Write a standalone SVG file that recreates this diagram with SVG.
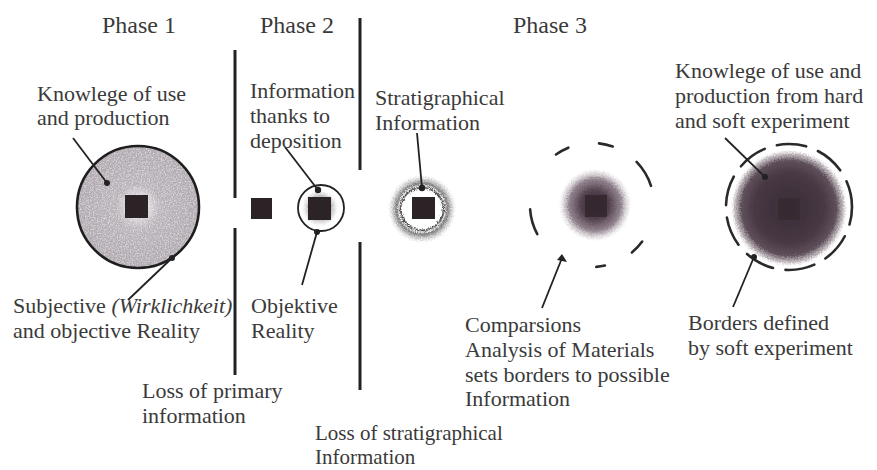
<svg xmlns="http://www.w3.org/2000/svg" width="877" height="470" viewBox="0 0 877 470">
<defs>
<style>
text{font-family:"Liberation Serif","Times New Roman",serif;font-size:22px;fill:#3a3a3a}
.title{font-size:24px}
.it{font-style:italic}
.sm{font-size:21px}
.div{stroke:#222;stroke-width:3;fill:none}
.lead{stroke:#222;stroke-width:1.8;fill:none}
.dot{fill:#222}
.sq{fill:#2b2326}
.dash{stroke:#2a2a2a;stroke-width:2.6;fill:none;stroke-linecap:round}
</style>
<radialGradient id="g1">
<stop offset="0" stop-color="#e6e2e6"/>
<stop offset="0.2" stop-color="#d6d1d6"/>
<stop offset="0.36" stop-color="#b7b0b7"/>
<stop offset="1" stop-color="#aea7ae"/>
</radialGradient>
<radialGradient id="halo">
<stop offset="0" stop-color="#555"/>
<stop offset="0.55" stop-color="#888" stop-opacity="0.7"/>
<stop offset="1" stop-color="#aaa" stop-opacity="0"/>
</radialGradient>
<radialGradient id="ring">
<stop offset="0" stop-color="#fff"/>
<stop offset="0.58" stop-color="#fff"/>
<stop offset="0.63" stop-color="#444"/>
<stop offset="0.68" stop-color="#eee"/>
<stop offset="0.74" stop-color="#666" stop-opacity="0.85"/>
<stop offset="0.86" stop-color="#999" stop-opacity="0.5"/>
<stop offset="1" stop-color="#ccc" stop-opacity="0"/>
</radialGradient>
<radialGradient id="b2">
<stop offset="0" stop-color="#3a2b37"/>
<stop offset="0.4" stop-color="#52414e"/>
<stop offset="0.72" stop-color="#7d6d79" stop-opacity="0.85"/>
<stop offset="1" stop-color="#c0b8be" stop-opacity="0"/>
</radialGradient>
<radialGradient id="b3">
<stop offset="0" stop-color="#3a2d37"/>
<stop offset="0.6" stop-color="#473844"/>
<stop offset="0.82" stop-color="#5f505b"/>
<stop offset="0.93" stop-color="#958890" stop-opacity="0.6"/>
<stop offset="1" stop-color="#c8c0c6" stop-opacity="0"/>
</radialGradient>
<filter id="grain" x="-10%" y="-10%" width="120%" height="120%">
<feTurbulence type="fractalNoise" baseFrequency="0.75" numOctaves="2" seed="4" result="n"/>
<feColorMatrix in="n" type="matrix" values="0 0 0 0 0 0 0 0 0 0 0 0 0 0 0 0 0 0 -1.4 1.55" result="a"/>
<feComposite in="SourceGraphic" in2="a" operator="in"/>
</filter>
<filter id="fuzz" x="-20%" y="-20%" width="140%" height="140%">
<feTurbulence type="fractalNoise" baseFrequency="0.7" numOctaves="2" seed="7" result="t"/>
<feDisplacementMap in="SourceGraphic" in2="t" scale="5" xChannelSelector="R" yChannelSelector="G"/>
</filter>
</defs>
<rect width="877" height="470" fill="#fff"/>

<g id="titles">
<text class="title" x="102" y="33">Phase 1</text>
<text class="title" x="260" y="33">Phase 2</text>
<text class="title" x="513" y="33">Phase 3</text>
</g>

<g id="dividers">
<line class="div" x1="235" y1="50" x2="235" y2="198"/>
<line class="div" x1="235" y1="228" x2="235" y2="375"/>
<line class="div" x1="360" y1="18" x2="360" y2="170"/>
<line class="div" x1="360" y1="242" x2="360" y2="390"/>
</g>

<g id="phase1-node">
<circle cx="138" cy="207" r="61" fill="#fff"/>
<circle cx="138" cy="207" r="61" fill="url(#g1)" filter="url(#grain)"/>
<circle cx="138" cy="207" r="61" fill="none" stroke="#1e1e1e" stroke-width="2.6"/>
<rect class="sq" x="125" y="195" width="23" height="23"/>
</g>

<g id="phase2-lost">
<rect class="sq" x="251" y="198" width="21" height="21"/>
</g>

<g id="phase2-node">
<circle cx="321" cy="208" r="23" fill="#fff" stroke="#222" stroke-width="1.8"/>
<circle cx="320" cy="208" r="18" fill="url(#halo)" filter="url(#fuzz)"/>
<rect class="sq" x="308" y="197" width="23" height="23"/>
</g>

<g id="phase3-strat">
<circle cx="422" cy="209" r="34" fill="url(#ring)" filter="url(#fuzz)"/>
<rect class="sq" x="412" y="197" width="23" height="22"/>
</g>

<g id="phase3-comparison">
<circle cx="595" cy="205" r="36" fill="url(#b2)" filter="url(#fuzz)"/>
<rect x="585" y="195" width="22" height="22" fill="#33262d" opacity="0.85"/>
<path class="dash" d="M556 154.5 A62 62 0 0 1 568.3 147.7"/>
<path class="dash" d="M599 143.4 A62 62 0 0 1 612.7 146.5"/>
<path class="dash" d="M636.6 161.9 A62 62 0 0 1 651 185.8"/>
<path class="dash" d="M642.2 241.5 A62 62 0 0 1 631.9 252.5"/>
<path class="dash" d="M604.9 265.6 A62 62 0 0 1 596.3 266.9"/>
<path class="dash" d="M537.3 234.1 A62 62 0 0 1 530.1 209.3"/>
</g>

<g id="phase3-experiment">
<circle cx="789" cy="208" r="58" fill="url(#b3)" filter="url(#fuzz)"/>
<rect x="778" y="198" width="22" height="22" fill="#33262d" opacity="0.6"/>
<circle cx="789" cy="207" r="63" class="dash" pathLength="100" stroke-dasharray="7.5 3.2" stroke-dashoffset="3"/>
</g>

<g id="connectors">
<line class="lead" x1="73" y1="138" x2="107" y2="183"/>
<circle class="dot" cx="107" cy="183" r="3"/>
<line class="lead" x1="128" y1="300" x2="172" y2="258"/>
<circle class="dot" cx="172" cy="258" r="3"/>
<line class="lead" x1="285" y1="147" x2="318" y2="190"/>
<circle class="dot" cx="318" cy="190" r="3.2"/>
<line class="lead" x1="302" y1="285" x2="317" y2="232"/>
<circle class="dot" cx="317" cy="232" r="3"/>
<line class="lead" x1="417" y1="133" x2="422" y2="188"/>
<circle class="dot" cx="422" cy="188" r="3.2"/>
<line class="lead" x1="542" y1="308" x2="562" y2="258"/>
<path class="dot" d="M562 254 L567 262 L557 260 Z"/>
<line class="lead" x1="725" y1="138" x2="765" y2="177"/>
<circle class="dot" cx="765" cy="177" r="3"/>
<line class="lead" x1="733" y1="307" x2="754" y2="257"/>
<circle class="dot" cx="754" cy="257" r="3"/>
</g>

<g id="labels">
<text x="37" y="101">Knowlege of use</text>
<text x="37" y="125">and production</text>
<text x="250" y="98">Information</text>
<text x="250" y="123">thanks to</text>
<text x="250" y="148">deposition</text>
<text x="375" y="105">Stratigraphical</text>
<text x="375" y="130">Information</text>
<text x="675" y="78">Knowlege of use and</text>
<text x="675" y="103">production from hard</text>
<text x="675" y="128">and soft experiment</text>
<text x="13" y="313">Subjective <tspan class="it">(Wirklichkeit)</tspan></text>
<text x="13" y="338">and objective Reality</text>
<text x="251" y="313">Objektive</text>
<text x="251" y="338">Reality</text>
<text x="142" y="398">Loss of primary</text>
<text x="142" y="423">information</text>
<text class="sm" x="315" y="440">Loss of stratigraphical</text>
<text class="sm" x="315" y="464">Information</text>
<text x="465" y="332">Comparsions</text>
<text x="465" y="357">Analysis of Materials</text>
<text x="465" y="382">sets borders to possible</text>
<text x="465" y="406">Information</text>
<text x="688" y="330">Borders defined</text>
<text x="688" y="355">by soft experiment</text>
</g>
</svg>
